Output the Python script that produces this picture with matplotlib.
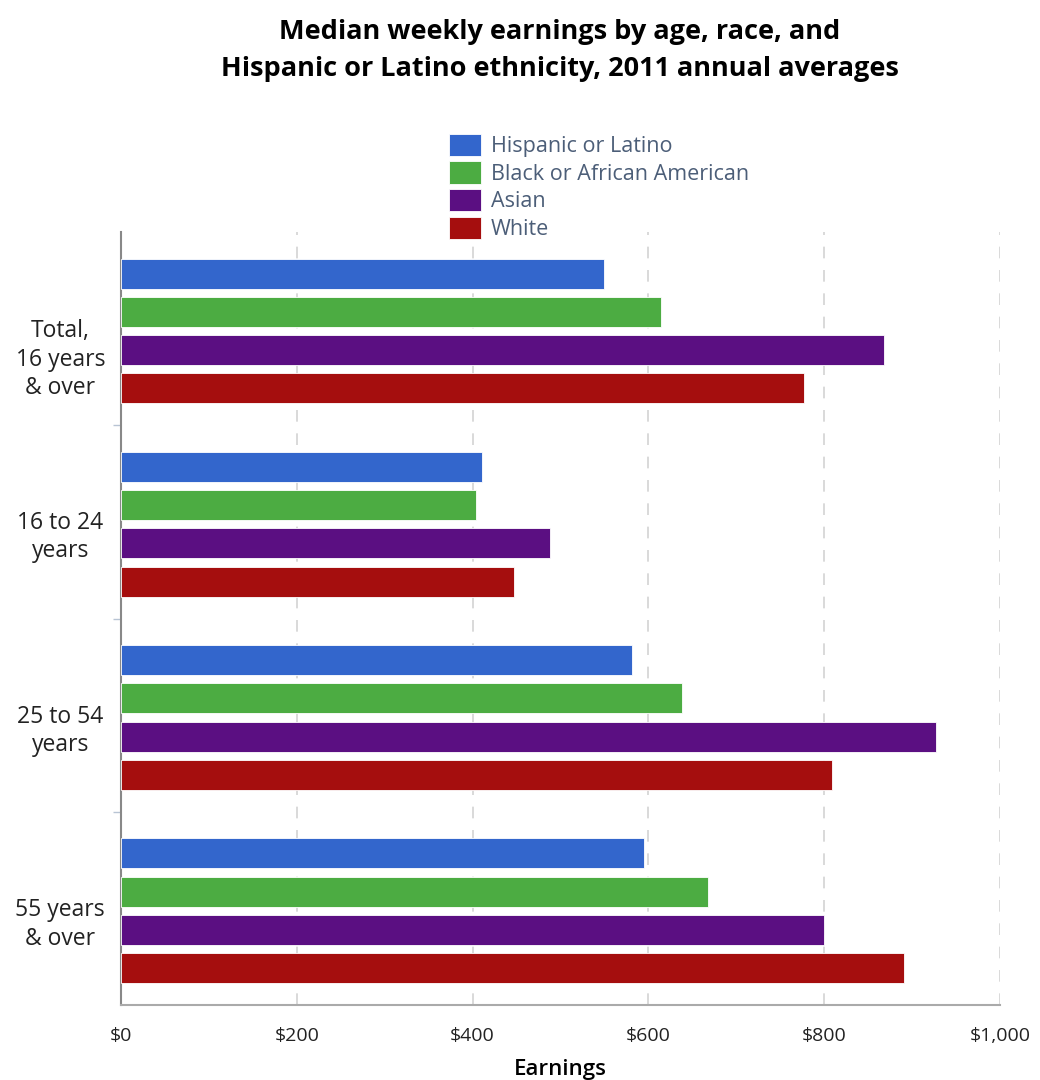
import numpy as np
import matplotlib
matplotlib.use("Agg")
import matplotlib.pyplot as plt
from matplotlib.ticker import FuncFormatter

# ── Data ──────────────────────────────────────────────────────────────────────
groups = ["Total,\n16 years\n& over", "16 to 24\nyears", "25 to 54\nyears", "55 years\n& over"]
series = ["Hispanic or Latino", "Black or African American", "Asian", "White"]
hispanic = [549, 411, 581, 595]
black    = [614, 404, 638, 668]
asian    = [868, 488, 927, 800]
white    = [777, 447, 809, 891]
values = [hispanic, black, asian, white]
colors = ["#3366cc", "#4cac42", "#5b0f82", "#a50e0e"]
xticks = [0, 200, 400, 600, 800, 1000]

plt.rcParams["font.family"] = ["Open Sans", "DejaVu Sans"]

fig = plt.figure(figsize=(10.4, 10.8), dpi=100)
ax = fig.add_axes([0.1163, 0.0694, 0.8452, 0.7158])

offsets = [0.215, 0.413, 0.611, 0.809]
bar_h = 0.155
for k, (name, vals, col) in enumerate(zip(series, values, colors)):
    y = np.arange(len(groups)) + offsets[k]
    ax.barh(y, vals, height=bar_h, color=col, edgecolor="white",
            linewidth=0.6, label=name, zorder=3)

ax.set_ylim(len(groups), 0)
ax.set_xlim(0, 1000)

# category labels (slightly below group centre, like the original)
label_pos = [0.635, 0.55, 0.555, 0.555]
ax.set_yticks([i + p for i, p in enumerate(label_pos)])
ax.set_yticklabels(groups, fontsize=16.5, color="#222222", linespacing=1.25)
ax.tick_params(axis="y", length=0, pad=0)
ax.set_yticks(np.arange(1, len(groups)), minor=True)
ax.tick_params(axis="y", which="minor", length=6, color="#b8c4d4", width=1)
for lab in ax.get_yticklabels():
    lab.set_horizontalalignment("center")
    lab.set_x(-0.069)

ax.set_xticks(xticks)
ax.xaxis.set_major_formatter(FuncFormatter(lambda v, p: f"${v:,.0f}"))
ax.tick_params(axis="x", length=0, pad=16, labelsize=14, labelcolor="#222222")
ax.set_xlabel("Earnings", fontsize=16, fontweight="semibold", labelpad=10)

ax.grid(axis="x", linestyle=(0, (6, 6)), color="#d9d9d9", linewidth=1.4, zorder=0)
for s in ["top", "right"]:
    ax.spines[s].set_visible(False)
ax.spines["left"].set_color("#888888")
ax.spines["left"].set_linewidth(1.5)
ax.spines["bottom"].set_color("#aaaaaa")
ax.spines["bottom"].set_linewidth(1.5)

fig.text(0.538, 0.982, "Median weekly earnings by age, race, and\nHispanic or Latino ethnicity, 2011 annual averages",
         ha="center", va="top", fontsize=19.5, fontweight="bold", linespacing=1.55)

leg = fig.legend(loc="upper left", bbox_to_anchor=(0.4215, 0.886), frameon=False,
                 fontsize=15.5, handlelength=1.5, handleheight=1.2,
                 labelspacing=0.2, handletextpad=0.45, borderpad=0)
for t in leg.get_texts():
    t.set_color("#4c5e78")

fig.savefig("out.png", dpi=100)
